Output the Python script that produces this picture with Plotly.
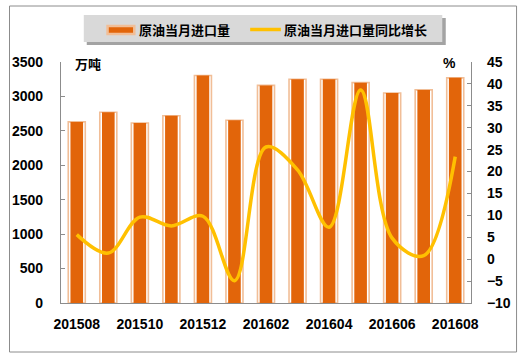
import plotly.graph_objects as go

months = ["201508", "201509", "201510", "201511", "201512", "201601", "201602",
          "201603", "201604", "201605", "201606", "201607", "201608"]
imports = [2630, 2770, 2615, 2720, 3305, 2655, 3160, 3250, 3250, 3200, 3050, 3095, 3270]
yoy = [5.6, 1.4, 9.6, 7.6, 9.8, -4.9, 25.6, 20.4, 7.3, 38.6, 4.8, 0.8, 23.4]
x_ticks = months[::2]
name_bar = "原油当月进口量"
name_line = "原油当月进口量同比增长"
unit_left = "万吨"
unit_right = "%"

W, H = 526, 358
ML, MR, MT, MB = 57, 55, 62, 55
PW, PH = W - ML - MR, H - MT - MB


def px(x):
    return (x - ML) / PW


def py(y):
    return (H - MB - y) / PH


BAR = "#E2650A"
PEACH = "#F1BE97"
GOLD = "#FFC000"
FONT = "Liberation Sans"
CJK = "Noto Sans CJK SC"

fig = go.Figure()
# outer outline of each bar (peach edge with a thin white gap)
fig.add_trace(go.Bar(x=months, y=imports, name=name_bar, width=0.54,
                     marker=dict(color="white", line=dict(color=PEACH, width=1.6)),
                     showlegend=False, hoverinfo="skip"))
# dark orange body
fig.add_trace(go.Bar(x=months, y=imports, name=name_bar, width=0.40,
                     marker=dict(color=BAR, line=dict(width=0)),
                     showlegend=False))
fig.add_trace(go.Scatter(x=months, y=yoy, name=name_line, yaxis="y2", mode="lines",
                         line=dict(color=GOLD, width=3.5, shape="spline", smoothing=1.0),
                         showlegend=False))

tickfont = dict(family=FONT, size=14, color="#000000", weight="bold")
fig.update_layout(
    width=W, height=H,
    margin=dict(l=ML, r=MR, t=MT, b=MB, pad=0),
    paper_bgcolor="white", plot_bgcolor="white",
    showlegend=False, barmode="overlay",
    xaxis=dict(type="category", tickvals=x_ticks, ticktext=x_ticks, ticks="",
               showline=True, linecolor="#8c8c8c", linewidth=1.2, showgrid=False,
               tickfont=tickfont, ticklabelstandoff=8),
    yaxis=dict(range=[0, 3500], dtick=500, ticks="inside", ticklen=4, tickcolor="#8c8c8c",
               showline=True, linecolor="#8c8c8c", linewidth=1.2, showgrid=False,
               zeroline=False, tickfont=tickfont, ticklabelstandoff=14),
    yaxis2=dict(range=[-10, 45], dtick=5, overlaying="y", side="right", ticks="inside",
                ticklen=4, tickcolor="#8c8c8c", showline=True, linecolor="#8c8c8c",
                linewidth=1.2, showgrid=False, zeroline=False, tickfont=tickfont,
                ticklabelstandoff=12),
)

shapes = []
# outer frame
shapes.append(dict(type="rect", xref="paper", yref="paper", x0=px(5), x1=px(517),
                   y0=py(352), y1=py(6), line=dict(color="#8c8c8c", width=1),
                   fillcolor="rgba(0,0,0,0)", layer="below"))
# legend shadow and box
shapes.append(dict(type="rect", xref="paper", yref="paper", x0=px(83), x1=px(445.5),
                   y0=py(45), y1=py(18), line=dict(width=0), fillcolor="#a3a3a3"))
shapes.append(dict(type="rect", xref="paper", yref="paper", x0=px(80), x1=px(442),
                   y0=py(42), y1=py(15), line=dict(width=0), fillcolor="#d9d9d9"))
# legend symbols
shapes.append(dict(type="rect", xref="paper", yref="paper", x0=px(104), x1=px(131),
                   y0=py(34), y1=py(26), line=dict(color=PEACH, width=2.5), fillcolor=BAR))
shapes.append(dict(type="line", xref="paper", yref="paper", x0=px(248), x1=px(279),
                   y0=py(29.5), y1=py(29.5), line=dict(color=GOLD, width=3.5)))
fig.update_layout(shapes=shapes)

legfont = dict(family=CJK, size=13, color="#000000", weight="bold")
annotations = [
    dict(text=name_bar, x=px(134), y=py(29.5), xanchor="left", yanchor="middle",
         xref="paper", yref="paper", showarrow=False, font=legfont),
    dict(text=name_line, x=px(280), y=py(29.5), xanchor="left", yanchor="middle",
         xref="paper", yref="paper", showarrow=False, font=legfont),
    dict(text=unit_left, x=px(69), y=py(63.5), xanchor="left", yanchor="middle",
         xref="paper", yref="paper", showarrow=False, font=legfont),
    dict(text=unit_right, x=px(458), y=py(63.5), xanchor="right", yanchor="middle",
         xref="paper", yref="paper", showarrow=False,
         font=dict(family=FONT, size=14, color="#000000", weight="bold")),
]
fig.update_layout(annotations=annotations)

fig.write_html("out.html", config={"displayModeBar": False},
               post_script="document.body.style.margin='0';document.body.style.padding='0';")
